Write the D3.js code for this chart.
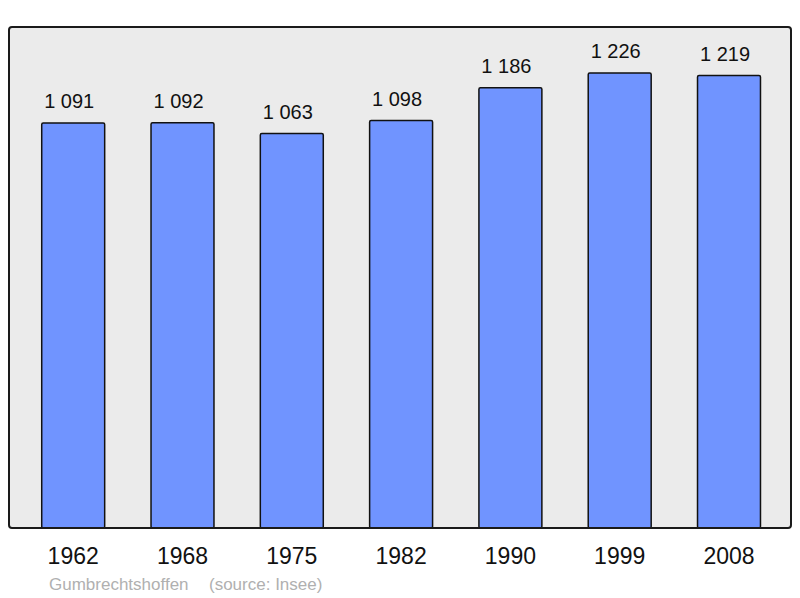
<!DOCTYPE html>
<html><head><meta charset="utf-8">
<script src="https://cdn.jsdelivr.net/npm/d3@7"></script>
<style>body{margin:0;background:#fff;}svg{display:block;}</style>
</head><body>
<script>
const years = ["1962","1968","1975","1982","1990","1999","2008"];
const population = [1091,1092,1063,1098,1186,1226,1219];
const valueLabels = ["1 091","1 092","1 063","1 098","1 186","1 226","1 219"];
const sourceCommune = "Gumbrechtshoffen";
const sourceNote = "(source: Insee)";

const W = 800, H = 598;
const svg = d3.select("body").append("svg").attr("width", W).attr("height", H);
const font = "'Liberation Sans', Arial, sans-serif";

const frame = {x0: 9, x1: 791, y0: 27, y1: 528};
const y = d3.scaleLinear().domain([0, 1350]).range([frame.y1, frame.y0]);
const x = d3.scaleBand().domain(years).range([18.55, 783.65]).paddingInner(0.424).paddingOuter(0.212);

svg.append("rect").attr("x", frame.x0).attr("y", frame.y0)
  .attr("width", frame.x1 - frame.x0).attr("height", frame.y1 - frame.y0)
  .attr("rx", 3).attr("fill", "#ebebeb").attr("stroke", "none");

const g = svg.append("g");
g.selectAll("rect.bar").data(years).join("rect").attr("class","bar")
  .attr("x", d => x(d)).attr("width", x.bandwidth())
  .attr("y", (d,i) => y(population[i]))
  .attr("height", (d,i) => y(0) - y(population[i]))
  .attr("rx", 1.5)
  .attr("fill", "#7094ff").attr("stroke", "#111").attr("stroke-width", 1.5);

g.selectAll("text.val").data(years).join("text").attr("class","val")
  .attr("x", d => x(d) + x.bandwidth()/2 - 4)
  .attr("y", (d,i) => y(population[i]) - 15)
  .attr("text-anchor","middle").attr("font-family", font).attr("font-size", 20)
  .attr("fill","#111").text((d,i) => valueLabels[i]);

svg.append("rect").attr("x", frame.x0).attr("y", frame.y0)
  .attr("width", frame.x1 - frame.x0).attr("height", frame.y1 - frame.y0)
  .attr("rx", 3).attr("fill", "none").attr("stroke", "#1a1a1a").attr("stroke-width", 2);

const xAxis = svg.append("g").attr("transform", `translate(0,${frame.y1})`)
  .call(d3.axisBottom(x).tickSize(0).tickPadding(0));
xAxis.select(".domain").remove();
xAxis.selectAll("text").attr("font-family", font).attr("font-size", 23).attr("fill","#111")
  .attr("dy", null).attr("y", 36);

svg.append("text").attr("x", 49).attr("y", 590).attr("font-family", font).attr("font-size", 17)
  .attr("fill", "#b0b0b0").text(sourceCommune);
svg.append("text").attr("x", 209).attr("y", 590).attr("font-family", font).attr("font-size", 17)
  .attr("fill", "#b0b0b0").text(sourceNote);
</script>
</body></html>
